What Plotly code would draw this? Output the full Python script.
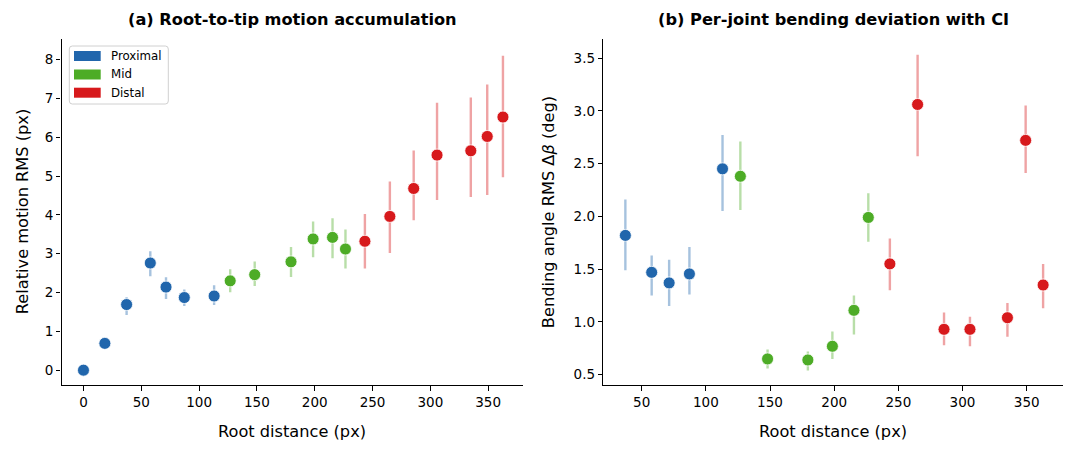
import plotly.graph_objects as go

# ---------------- data ----------------
root_distance = [0, 18.5, 37.3, 57.8, 71.4, 87.2, 113.0, 126.9, 148.1, 179.5,
                 198.6, 215.4, 226.6, 243.4, 265.0, 285.6, 305.8, 335.0, 349.2, 362.8]
segment = ["Proximal"] * 7 + ["Mid"] * 6 + ["Distal"] * 7

motion_rms = [0, 0.69, 1.69, 2.76, 2.14, 1.87, 1.91, 2.30, 2.46, 2.79,
              3.38, 3.42, 3.12, 3.32, 3.96, 4.68, 5.54, 5.65, 6.02, 6.52]
motion_lo = [0, 0.69, 1.42, 2.42, 1.83, 1.65, 1.68, 2.01, 2.17, 2.40,
             2.91, 2.88, 2.62, 2.62, 3.02, 3.86, 4.38, 4.46, 4.51, 4.97]
motion_hi = [0, 0.69, 1.88, 3.06, 2.39, 2.08, 2.19, 2.60, 2.80, 3.17,
             3.83, 3.91, 3.62, 4.02, 4.86, 5.66, 6.89, 7.02, 7.36, 8.10]

# bending deviation (joints start at the third root distance)
bend_distance = root_distance[2:]
bend_segment = segment[2:]
bend_rms = [1.82, 1.47, 1.37, 1.455, 2.45, 2.38, 0.65, 0.64, 0.77, 1.11,
            1.99, 1.55, 3.06, 0.93, 0.93, 1.04, 2.72, 1.35]
bend_lo = [1.49, 1.25, 1.15, 1.26, 2.05, 2.06, 0.56, 0.54, 0.65, 0.88,
           1.76, 1.30, 2.57, 0.78, 0.77, 0.86, 2.41, 1.13]
bend_hi = [2.16, 1.63, 1.59, 1.71, 2.77, 2.71, 0.74, 0.72, 0.91, 1.25,
           2.22, 1.79, 3.53, 1.09, 1.05, 1.18, 3.05, 1.55]

segment_names = ["Proximal", "Mid", "Distal"]
colors = {"Proximal": (33, 102, 172), "Mid": (77, 172, 38), "Distal": (215, 25, 28)}

left_xticks = [0, 50, 100, 150, 200, 250, 300, 350]
left_yticks = [0, 1, 2, 3, 4, 5, 6, 7, 8]
right_xticks = [50, 100, 150, 200, 250, 300, 350]
right_yticks = [0.5, 1.0, 1.5, 2.0, 2.5, 3.0, 3.5]

# ---------------- layout geometry ----------------
W, H = 1079, 455
FONT = "DejaVu Sans"


def px_x(p):
    return p / W


def px_y(p):
    return 1 - p / H


fig = go.Figure()


def rgb(c, a=1.0):
    return f"rgba({c[0]},{c[1]},{c[2]},{a})"


def add_series(xs, ys, lo, hi, segs, xa, ya):
    for name in segment_names:
        idx = [i for i, s in enumerate(segs) if s == name]
        x = [xs[i] for i in idx]
        y = [ys[i] for i in idx]
        up = [hi[i] - ys[i] for i in idx]
        dn = [ys[i] - lo[i] for i in idx]
        fig.add_trace(go.Scatter(
            x=x, y=y, mode="markers", xaxis=xa, yaxis=ya, showlegend=False,
            marker=dict(size=12, color=rgb(colors[name]),
                        line=dict(color="white", width=0.8)),
            error_y=dict(type="data", symmetric=False, array=up, arrayminus=dn,
                         width=0, thickness=2.4, color=rgb(colors[name], 0.4)),
            name=name,
        ))


add_series(root_distance, motion_rms, motion_lo, motion_hi, segment, "x", "y")
add_series(bend_distance, bend_rms, bend_lo, bend_hi, bend_segment, "x2", "y2")

TICK_SIZE = 13.5
LABEL_SIZE = 16.2
axis_common = dict(
    showgrid=False, zeroline=False, showline=True, linecolor="black", linewidth=1.1,
    ticks="outside", ticklen=4.5, tickwidth=1.1, tickcolor="black", mirror=False,
    tickfont=dict(family=FONT, size=TICK_SIZE, color="black"),
)

left_dom = [px_x(61.5), px_x(523.3)]
right_dom = [px_x(603.3), px_x(1063)]
y_dom = [px_y(385.3), px_y(39)]

fig.update_layout(
    width=W, height=H, margin=dict(l=0, r=0, t=0, b=0),
    paper_bgcolor="white", plot_bgcolor="white", showlegend=False,
    xaxis=dict(domain=left_dom, range=[-19.0, 380.4], tickvals=left_xticks,
               anchor="y", **axis_common),
    yaxis=dict(domain=y_dom, range=[-0.39, 8.53], tickvals=left_yticks,
               anchor="x", **axis_common),
    xaxis2=dict(domain=right_dom, range=[20.1, 378.3], tickvals=right_xticks,
                anchor="y2", **axis_common),
    yaxis2=dict(domain=y_dom, range=[0.40, 3.68], tickvals=right_yticks,
                tickformat=".1f", anchor="x2", **axis_common),
)

ann = []
title_font = dict(family=FONT, size=LABEL_SIZE, color="black")
label_font = dict(family=FONT, size=LABEL_SIZE, color="black")
ann.append(dict(text="<b>(a) Root-to-tip motion accumulation</b>", xref="paper", yref="paper",
                x=(left_dom[0] + left_dom[1]) / 2, y=px_y(20), showarrow=False,
                font=title_font, xanchor="center", yanchor="middle"))
ann.append(dict(text="<b>(b) Per-joint bending deviation with CI</b>", xref="paper", yref="paper",
                x=(right_dom[0] + right_dom[1]) / 2, y=px_y(20), showarrow=False,
                font=title_font, xanchor="center", yanchor="middle"))
for dom in (left_dom, right_dom):
    ann.append(dict(text="Root distance (px)", xref="paper", yref="paper",
                    x=(dom[0] + dom[1]) / 2, y=px_y(431), showarrow=False,
                    font=label_font, xanchor="center", yanchor="middle"))
ann.append(dict(text="Relative motion RMS (px)", xref="paper", yref="paper",
                x=px_x(22), y=(y_dom[0] + y_dom[1]) / 2, showarrow=False, textangle=-90,
                font=label_font, xanchor="center", yanchor="middle"))
ann.append(dict(text="Bending angle RMS Δ<i>β</i> (deg)", xref="paper", yref="paper",
                x=px_x(548), y=(y_dom[0] + y_dom[1]) / 2, showarrow=False, textangle=-90,
                font=label_font, xanchor="center", yanchor="middle"))

# legend (drawn as patches + labels, matplotlib style, rounded frame)
bx0, bx1, by0, by1, r = 69.3, 168.3, 46.0, 104.0, 3.0
frame_path = (
    f"M {px_x(bx0 + r)},{px_y(by0)} L {px_x(bx1 - r)},{px_y(by0)} "
    f"Q {px_x(bx1)},{px_y(by0)} {px_x(bx1)},{px_y(by0 + r)} "
    f"L {px_x(bx1)},{px_y(by1 - r)} Q {px_x(bx1)},{px_y(by1)} {px_x(bx1 - r)},{px_y(by1)} "
    f"L {px_x(bx0 + r)},{px_y(by1)} Q {px_x(bx0)},{px_y(by1)} {px_x(bx0)},{px_y(by1 - r)} "
    f"L {px_x(bx0)},{px_y(by0 + r)} Q {px_x(bx0)},{px_y(by0)} {px_x(bx0 + r)},{px_y(by0)} Z"
)
shapes = [dict(type="path", xref="paper", yref="paper", path=frame_path,
               line=dict(color="#d0d0d0", width=1), fillcolor="rgba(255,255,255,0.8)",
               layer="above")]
row_y = [56, 74.5, 92.7]
for name, yy in zip(segment_names, row_y):
    shapes.append(dict(type="rect", xref="paper", yref="paper",
                       x0=px_x(74), x1=px_x(100.7), y0=px_y(yy + 5), y1=px_y(yy - 5),
                       line=dict(width=0), fillcolor=rgb(colors[name]), layer="above"))
    ann.append(dict(text=name, xref="paper", yref="paper", x=px_x(108.5), y=px_y(yy),
                    showarrow=False, xanchor="left", yanchor="middle",
                    font=dict(family=FONT, size=11.8, color="black")))

fig.update_layout(annotations=ann, shapes=shapes)
fig.write_html("out.html")
